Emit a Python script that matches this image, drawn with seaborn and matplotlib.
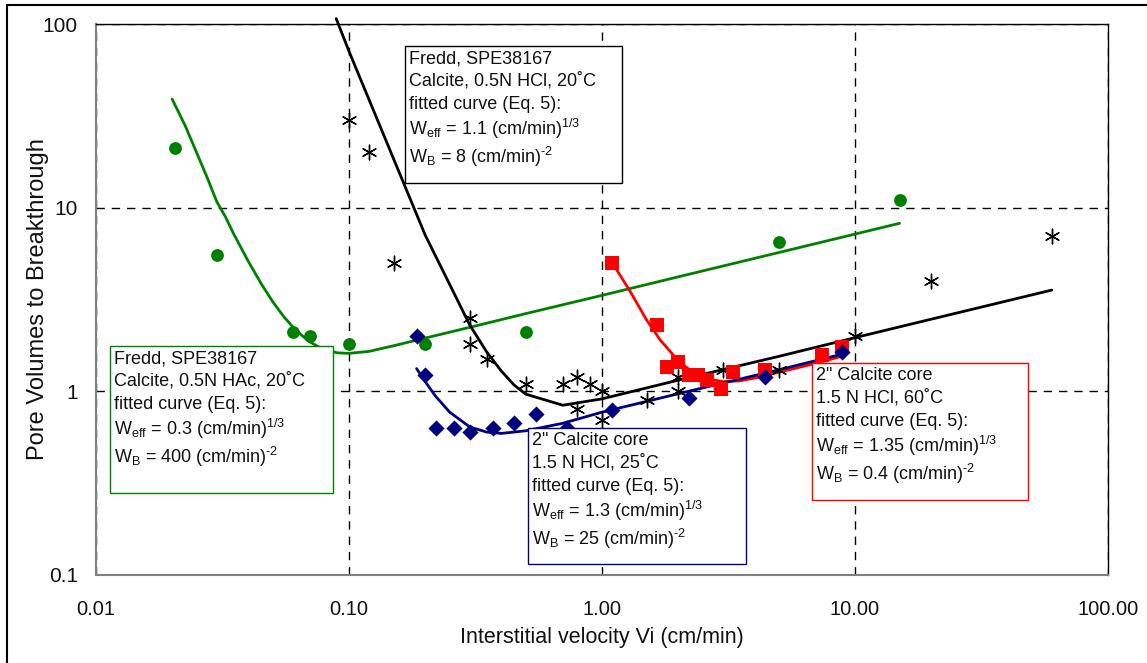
import matplotlib; matplotlib.use('Agg')
import matplotlib.pyplot as plt
import seaborn as sns
from matplotlib.patches import Rectangle
from matplotlib.lines import Line2D
from matplotlib.ticker import NullLocator

# ---- values ----
# Fredd SPE38167, 0.5N HAc, 20C (green)
hac_x = [0.0205, 0.03, 0.06, 0.07, 0.10, 0.20, 0.50, 5.0, 15.0]
hac_y = [21.0, 5.5, 2.1, 2.0, 1.8, 1.8, 2.1, 6.5, 11.0]
hac_fit_x = [0.02, 0.0225, 0.025, 0.0275, 0.03, 0.0325, 0.035, 0.04, 0.045, 0.05, 0.055,
             0.06, 0.065, 0.07, 0.075, 0.08, 0.09, 0.10, 0.12, 0.15, 0.2, 0.3, 0.5,
             1, 2, 5, 10, 15]
hac_fit_y = [39, 28, 19.9, 14.6, 10.8, 8.9, 7.2, 5.1, 3.85, 3.07, 2.57,
             2.24, 2.02, 1.86, 1.76, 1.69, 1.62, 1.61, 1.65, 1.77, 1.95, 2.23, 2.65,
             3.33, 4.2, 5.7, 7.18, 8.22]

# Fredd SPE38167, 0.5N HCl, 20C (black)
hcl_x = [0.10, 0.12, 0.15, 0.30, 0.30, 0.35, 0.50, 0.70, 0.80, 0.90, 1.0,
         0.80, 1.0, 1.5, 2.0, 2.0, 3.0, 5.0, 10.0, 20.0, 60.0]
hcl_y = [30, 20, 5.0, 2.5, 1.8, 1.5, 1.1, 1.1, 1.2, 1.1, 1.0,
         0.8, 0.7, 0.9, 1.0, 1.2, 1.3, 1.3, 2.0, 4.0, 7.0]
hcl_fit_x = [0.089, 0.1, 0.2, 0.3, 0.35, 0.4, 0.45, 0.5, 0.7, 1, 2, 5, 10, 20, 60]
hcl_fit_y = [107, 71, 7.1, 2.3, 1.64, 1.29, 1.08, 0.965, 0.84, 0.91, 1.15, 1.55, 1.96, 2.47, 3.56]

# 2" calcite core, 1.5 N HCl, 60C (red)
c60_x = [1.1, 1.65, 1.8, 2.0, 2.2, 2.4, 2.6, 2.95, 3.3, 4.4, 7.4, 8.9]
c60_y = [5.0, 2.3, 1.35, 1.45, 1.22, 1.23, 1.15, 1.03, 1.28, 1.3, 1.58, 1.74]
c60_fit_x = [1.1, 1.3, 1.5, 1.7, 2.0, 2.3, 2.6, 3.0, 3.5, 4.0, 5.0, 7.0, 9.0]
c60_fit_y = [5.0, 3.45, 2.45, 1.9, 1.47, 1.26, 1.17, 1.13, 1.14, 1.18, 1.27, 1.42, 1.56]

# 2" calcite core, 1.5 N HCl, 25C (navy)
c25_x = [0.185, 0.20, 0.22, 0.26, 0.30, 0.37, 0.45, 0.55, 0.73, 1.1, 2.2, 4.4, 8.9]
c25_y = [2.0, 1.22, 0.63, 0.63, 0.60, 0.63, 0.67, 0.75, 0.63, 0.79, 0.92, 1.2, 1.64]
c25_fit_x = [0.185, 0.2, 0.22, 0.25, 0.3, 0.35, 0.4, 0.5, 0.7, 1, 2, 5, 9]
c25_fit_y = [1.33, 1.13, 0.94, 0.77, 0.64, 0.6, 0.59, 0.61, 0.67, 0.77, 0.97, 1.31, 1.6]

x_ticks = [0.01, 0.1, 1, 10, 100]
x_ticklabels = ['0.01', '0.10', '1.00', '10.00', '100.00']
y_ticks = [0.1, 1, 10, 100]
y_ticklabels = ['0.1', '1', '10', '100']

GREEN, BLACK, RED, NAVY = '#008000', '#000000', '#ff0000', '#000080'

sns.set_style('white')
plt.rcParams['font.family'] = ['Liberation Sans', 'DejaVu Sans']
plt.rcParams['mathtext.fontset'] = 'custom'
plt.rcParams['mathtext.rm'] = 'Liberation Sans'
plt.rcParams['mathtext.it'] = 'Liberation Sans:italic'

W, H = 1147, 663
fig = plt.figure(figsize=(W / 100, H / 100), dpi=100)
ax = fig.add_axes([96 / W, 1 - 575 / H, (1108 - 96) / W, (575 - 24) / H])
ax.set_xscale('log'); ax.set_yscale('log')

# fitted curves
sns.lineplot(x=hac_fit_x, y=hac_fit_y, ax=ax, color=GREEN, lw=2, sort=False, estimator=None, zorder=3)
sns.lineplot(x=hcl_fit_x, y=hcl_fit_y, ax=ax, color=BLACK, lw=2, sort=False, estimator=None, zorder=3, clip_on=False)
sns.lineplot(x=c60_fit_x, y=c60_fit_y, ax=ax, color=RED, lw=2, sort=False, estimator=None, zorder=3)
sns.lineplot(x=c25_fit_x, y=c25_fit_y, ax=ax, color=NAVY, lw=2, sort=False, estimator=None, zorder=3)

# measured points
sns.scatterplot(x=hac_x, y=hac_y, ax=ax, marker='o', s=85, color=GREEN, edgecolor=GREEN, linewidth=0, zorder=4)
sns.scatterplot(x=hcl_x, y=hcl_y, ax=ax, marker=(6, 2, 0), s=110, color=BLACK, edgecolor=BLACK, linewidth=1, zorder=4)
sns.scatterplot(x=c60_x, y=c60_y, ax=ax, marker='s', s=100, color=RED, edgecolor=RED, linewidth=0, zorder=4)
sns.scatterplot(x=c25_x, y=c25_y, ax=ax, marker='D', s=68, color=NAVY, edgecolor=NAVY, linewidth=0, zorder=4)

ax.set_xlim(0.01, 100); ax.set_ylim(0.1, 100)
ax.set_xticks(x_ticks, x_ticklabels)
ax.set_yticks(y_ticks, y_ticklabels)
ax.xaxis.set_minor_locator(NullLocator()); ax.yaxis.set_minor_locator(NullLocator())
ax.tick_params(which='major', direction='out', length=7, width=1, color='#808080',
               labelcolor='#111111')
ax.tick_params(axis='x', pad=11, labelsize=14.5)
ax.tick_params(axis='y', pad=6, labelsize=15)
ax.grid(True, which='major', color='black', lw=1, ls=(0, (6, 5)))
for side in ['left', 'bottom']:
    ax.spines[side].set_color('#808080'); ax.spines[side].set_linewidth(1.5)
for side in ['top', 'right']:
    ax.spines[side].set_color('black'); ax.spines[side].set_linewidth(1)
ax.set_xlabel('Interstitial velocity Vi (cm/min)', fontsize=15.5, color='#111111')
ax.set_ylabel('Pore Volumes to Breakthrough', fontsize=17, color='#111111')
ax.xaxis.set_label_coords(0.5, -0.094)
ax.yaxis.set_label_coords(-0.046, 0.5)


def note_box(x0, y0, x1, y1, edge, lines):
    fig.add_artist(Rectangle((x0 / W, 1 - y1 / H), (x1 - x0) / W, (y1 - y0) / H,
                             transform=fig.transFigure, facecolor='white',
                             edgecolor=edge, lw=1, zorder=5))
    for off, txt in zip([17, 39.5, 63, 89, 117], lines):
        fig.text((x0 + 4) / W, 1 - (y0 + off) / H, txt, fontsize=13,
                 va='baseline', ha='left', color='#111111', zorder=6)


SUP13 = r'$^{1/3}$'
SUPM2 = r'$^{\mathrm{‐2}}$'
note_box(405, 46, 622, 183, 'black',
         ['Fredd, SPE38167', 'Calcite, 0.5N HCl, 20˚C', 'fitted curve (Eq. 5):',
          r'W$_{\mathrm{eff}}$ = 1.1 (cm/min)' + SUP13, r'W$_{\mathrm{B}}$ = 8 (cm/min)' + SUPM2])
note_box(110, 346, 333, 493, GREEN,
         ['Fredd, SPE38167', 'Calcite, 0.5N HAc, 20˚C', 'fitted curve (Eq. 5):',
          r'W$_{\mathrm{eff}}$ = 0.3 (cm/min)' + SUP13, r'W$_{\mathrm{B}}$ = 400 (cm/min)' + SUPM2])
note_box(528, 428, 746, 564, NAVY,
         ['2" Calcite core', '1.5 N HCl, 25˚C', 'fitted curve (Eq. 5):',
          r'W$_{\mathrm{eff}}$ = 1.3 (cm/min)' + SUP13, r'W$_{\mathrm{B}}$ = 25 (cm/min)' + SUPM2])
note_box(812, 363, 1028, 500, RED,
         ['2" Calcite core', '1.5 N HCl, 60˚C', 'fitted curve (Eq. 5):',
          r'W$_{\mathrm{eff}}$ = 1.35 (cm/min)' + SUP13, r'W$_{\mathrm{B}}$ = 0.4 (cm/min)' + SUPM2])

# screenshot frame (left and top edges)
fig.add_artist(Line2D([7 / W, 7 / W], [0, 1 - 5 / H], transform=fig.transFigure, color='black', lw=1.5))
fig.add_artist(Line2D([7 / W, 1], [1 - 5 / H, 1 - 5 / H], transform=fig.transFigure, color='black', lw=1.5))

fig.savefig('out.png', dpi=100)
